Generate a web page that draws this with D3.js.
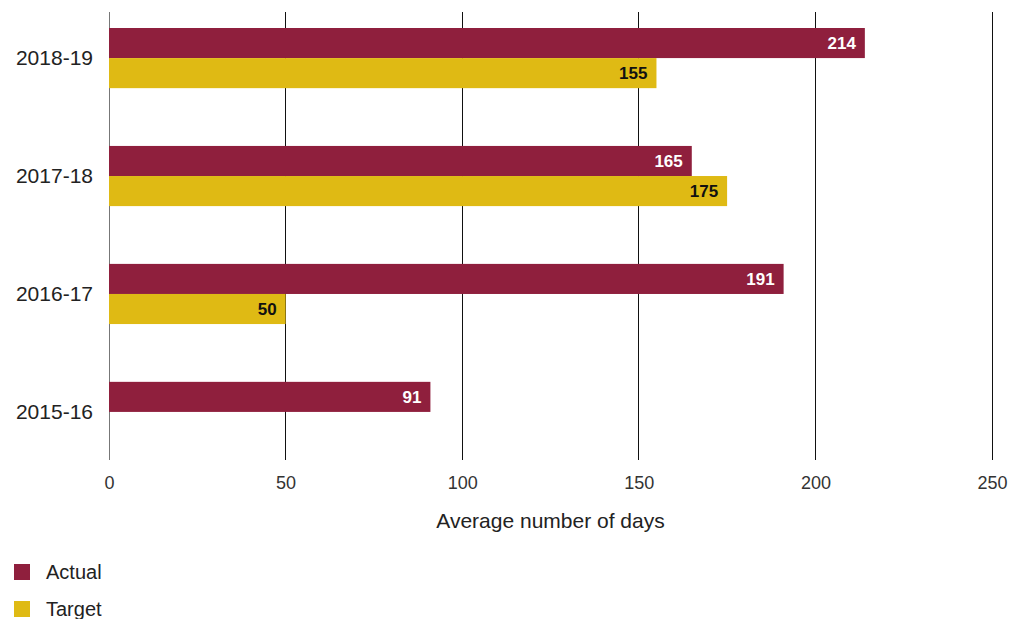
<!DOCTYPE html>
<html>
<head>
<meta charset="utf-8">
<script src="https://cdn.jsdelivr.net/npm/d3@7"></script>
<style>
  html, body { margin: 0; padding: 0; background: #fff; }
  svg { display: block; font-family: "Liberation Sans", Arial, Helvetica, sans-serif; }
</style>
</head>
<body>
<svg id="chart" width="1022" height="619"></svg>
<script>
// Average number of days, by year
const years = ["2018-19", "2017-18", "2016-17", "2015-16"];
const actual = [214, 165, 191, 91];
const target = [155, 175, 50, null];
const seriesNames = ["Actual", "Target"];
const seriesColors = ["#8f1f3d", "#dfba14"];
const labelColors = ["#ffffff", "#111111"];
const xTicks = [0, 50, 100, 150, 200, 250];
const xTitle = "Average number of days";

const svg = d3.select("#chart");

const x = d3.scaleLinear().domain([0, 250]).range([109, 992]);
const y = d3.scaleBand().domain(years).range([28, 442]).paddingInner(0.49).paddingOuter(0);
const sub = d3.scaleBand().domain(seriesNames).range([0, y.bandwidth()]);

const gridTop = 12, gridBottom = 460;

// vertical grid lines
svg.append("g")
  .selectAll("line")
  .data(xTicks)
  .join("line")
  .attr("x1", d => x(d)).attr("x2", d => x(d))
  .attr("y1", gridTop).attr("y2", gridBottom)
  .attr("stroke", d => d === 0 ? "#777" : "#111")
  .attr("stroke-width", 1)
  .attr("shape-rendering", "crispEdges");

// x axis tick labels
const xAxis = d3.axisBottom(x).tickValues(xTicks).tickSize(0).tickPadding(0);
const gx = svg.append("g").attr("transform", `translate(0,${gridBottom + 29})`).call(xAxis);
gx.select(".domain").remove();
gx.selectAll("text")
  .attr("font-size", 18).attr("fill", "#333").attr("dy", 0)
  .attr("font-family", "Liberation Sans, Arial, sans-serif");

// axis title
svg.append("text")
  .attr("x", (x(0) + x(250)) / 2).attr("y", 528)
  .attr("text-anchor", "middle")
  .attr("font-size", 21).attr("fill", "#222")
  .text(xTitle);

// y axis category labels
const yAxis = d3.axisLeft(y).tickSize(0).tickPadding(16);
const gy = svg.append("g").attr("transform", `translate(${x(0)},0)`).call(yAxis);
gy.select(".domain").remove();
gy.selectAll("text")
  .attr("font-size", 21).attr("fill", "#222")
  .attr("font-family", "Liberation Sans, Arial, sans-serif");

// bars
const rows = [];
years.forEach((yr, i) => {
  [actual[i], target[i]].forEach((v, j) => {
    if (v != null) rows.push({ year: yr, series: seriesNames[j], idx: j, value: v });
  });
});

const g = svg.append("g");
g.selectAll("rect")
  .data(rows)
  .join("rect")
  .attr("x", x(0))
  .attr("y", d => y(d.year) + sub(d.series))
  .attr("width", d => x(d.value) - x(0))
  .attr("height", sub.bandwidth())
  .attr("fill", d => seriesColors[d.idx]);

g.selectAll("text")
  .data(rows)
  .join("text")
  .attr("x", d => x(d.value) - 9)
  .attr("y", d => y(d.year) + sub(d.series) + sub.bandwidth() / 2)
  .attr("dy", "0.36em")
  .attr("text-anchor", "end")
  .attr("font-size", 17).attr("font-weight", "bold")
  .attr("fill", d => labelColors[d.idx])
  .text(d => d.value);

// legend
const legend = svg.append("g");
seriesNames.forEach((name, i) => {
  const ly = 572 + i * 37;
  legend.append("rect")
    .attr("x", 14).attr("y", ly - 8).attr("width", 16).attr("height", 16)
    .attr("fill", seriesColors[i]);
  legend.append("text")
    .attr("x", 46).attr("y", ly).attr("dy", "0.36em")
    .attr("font-size", 20).attr("fill", "#222")
    .text(name);
});
</script>
</body>
</html>
